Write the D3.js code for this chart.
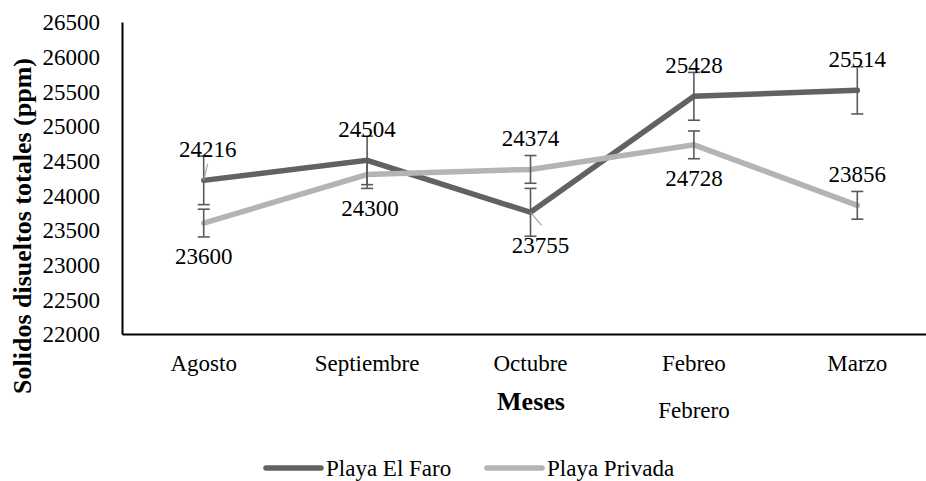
<!DOCTYPE html>
<html>
<head>
<meta charset="utf-8">
<style>
body { margin: 0; background: #fff; }
svg text { font-family: "Liberation Serif", "Times New Roman", serif; fill: #000; }
.axis path { stroke: #000; stroke-width: 2px; }
.axis text { font-size: 23px; }
.lbl { font-size: 23px; text-anchor: middle; }
.title { font-weight: bold; font-size: 26px; text-anchor: middle; }
</style>
</head>
<body>
<svg width="926" height="481"></svg>
<script src="https://d3js.org/d3.v7.min.js"></script>
<script>
// data
var meses = ["Agosto", "Septiembre", "Octubre", "Febreo", "Marzo"];
var yTicks = [22000, 22500, 23000, 23500, 24000, 24500, 25000, 25500, 26000, 26500];
var faro = [24216, 24504, 23755, 25428, 25514];
var faroErr = [350, 350, 345, 345, 340];
var privada = [23600, 24300, 24374, 24728, 23856];
var privadaErr = [200, 200, 200, 200, 200];

var series = [
  { name: "Playa El Faro", values: faro, err: faroErr, color: "#626262",
    pos: ["above", "above", "below", "above", "above"], dx: [4, 0, 10, 0, 0], leader: [true, false, true, false, false] },
  { name: "Playa Privada", values: privada, err: privadaErr, color: "#b4b4b4",
    pos: ["below", "below", "above", "below", "above"], dx: [0, 3, 0, 0, 0], leader: [false, false, false, false, false] }
];

var svg = d3.select("svg");
var mLeft = 122, mRight = 939, mTop = 22, mBottom = 334;

var x = d3.scaleBand().domain(meses).range([mLeft, mRight]);
var y = d3.scaleLinear().domain([22000, 26500]).range([mBottom, mTop]);
var cx = function(m) { return x(m) + x.bandwidth() / 2; };

// axes
var ya = svg.append("g").attr("class", "axis")
  .attr("transform", "translate(" + mLeft + ",0)")
  .call(d3.axisLeft(y).tickValues(yTicks).tickSize(0).tickPadding(22).tickFormat(d3.format("d")));
ya.selectAll("text").attr("dy", "0.34em");

var xa = svg.append("g").attr("class", "axis")
  .attr("transform", "translate(0," + mBottom + ")")
  .call(d3.axisBottom(x).tickSize(0));
xa.selectAll("text").attr("y", 37).attr("dy", null);

// titles
svg.append("text").attr("class", "title")
  .attr("transform", "translate(31,226) rotate(-90)")
  .text("Solidos disueltos totales (ppm)");
svg.append("text").attr("class", "title")
  .attr("x", 531).attr("y", 410).text("Meses");
svg.append("text").attr("class", "lbl")
  .attr("x", cx("Febreo")).attr("y", 418).text("Febrero");

// lines
var line = d3.line()
  .x(function(d, i) { return cx(meses[i]); })
  .y(function(d) { return y(d); });

series.forEach(function(s) {
  svg.append("path")
    .datum(s.values)
    .attr("d", line)
    .attr("fill", "none")
    .attr("stroke", s.color)
    .attr("stroke-width", 5.5)
    .attr("stroke-linecap", "round");
});

// error bars
series.forEach(function(s) {
  var g = svg.append("g").attr("stroke", "#5a5a5a").attr("stroke-width", 1.6);
  s.values.forEach(function(v, i) {
    var px = cx(meses[i]), y0 = y(v + s.err[i]), y1 = y(v - s.err[i]);
    g.append("line").attr("x1", px).attr("x2", px).attr("y1", y0).attr("y2", y1);
    g.append("line").attr("x1", px - 6).attr("x2", px + 6).attr("y1", y0).attr("y2", y0);
    g.append("line").attr("x1", px - 6).attr("x2", px + 6).attr("y1", y1).attr("y2", y1);
  });
});

// data labels
series.forEach(function(s) {
  s.values.forEach(function(v, i) {
    var px = cx(meses[i]), py = y(v);
    var by = s.pos[i] == "above" ? py - 23.5 : py + 41;
    if (s.leader[i]) {
      var ey = s.pos[i] == "above" ? by + 7 : by - 28;
      svg.append("line")
        .attr("x1", px).attr("y1", py)
        .attr("x2", px + s.dx[i] + (s.pos[i] == "above" ? 0 : 1)).attr("y2", ey)
        .attr("stroke", "#a6a6a6").attr("stroke-width", 1.2);
    }
    svg.append("text").attr("class", "lbl")
      .attr("x", px + s.dx[i]).attr("y", by)
      .text(v);
  });
});

// legend
var legX = [266, 487];
series.forEach(function(s, i) {
  svg.append("line")
    .attr("x1", legX[i]).attr("x2", legX[i] + 55)
    .attr("y1", 468).attr("y2", 468)
    .attr("stroke", s.color).attr("stroke-width", 5.5)
    .attr("stroke-linecap", "round");
  svg.append("text")
    .attr("x", legX[i] + 60).attr("y", 476)
    .style("font-size", "23px")
    .text(s.name);
});
</script>
</body>
</html>
